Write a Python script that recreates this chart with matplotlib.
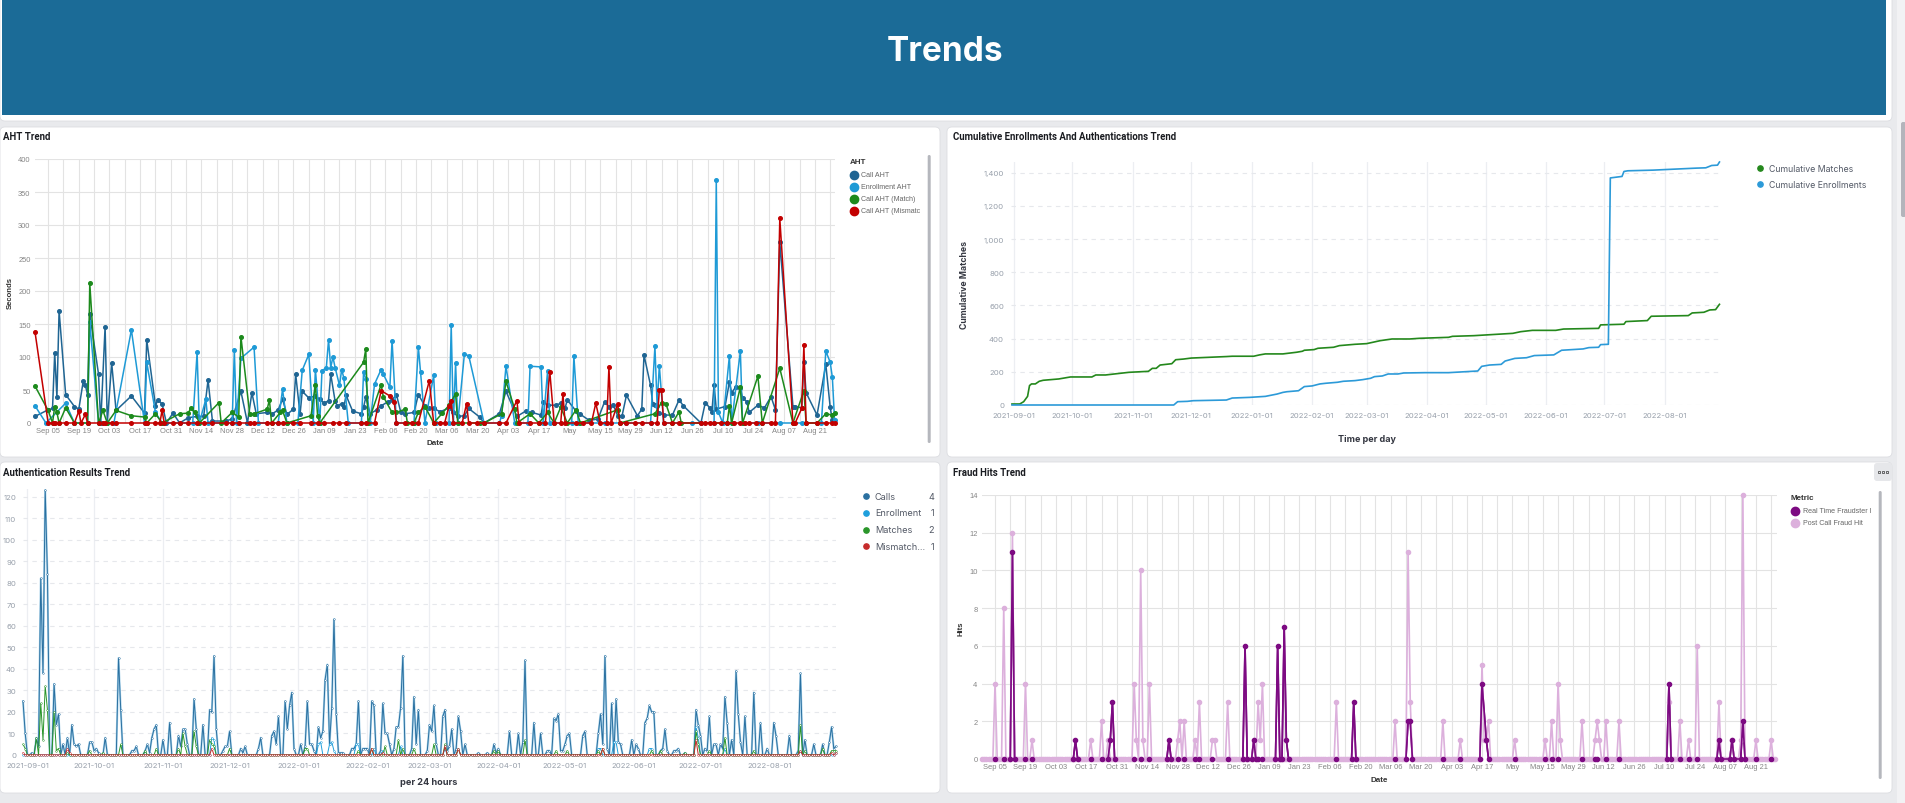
import matplotlib
matplotlib.use("Agg")
import matplotlib.pyplot as plt
from matplotlib.patches import FancyBboxPatch
import numpy as np
import pandas as pd

W, H = 1906, 804
START = pd.Timestamp("2021-08-30")   # day 0 of every series

# ---------------- AHT Trend : {day offset: seconds} ----------------
call_aht = {0: 10, 6: 20, 8: 22, 9: 106, 10: 39, 11: 170, 14: 43, 18: 25, 20: 21, 22: 63, 23: 57, 24: 43,
            25: 165, 29: 74, 30: 0, 32: 146, 33: 0, 35: 91, 37: 19, 44: 41, 50: 15, 51: 126, 55: 26, 56: 35,
            58: 29, 60: 0, 63: 15, 66: 0, 70: 8, 74: 10, 77: 10, 79: 65, 81: 3, 87: 3, 90: 6, 94: 48, 97: 0,
            99: 46, 101: 14, 106: 16, 108: 13, 111: 20, 113: 36, 115: 13, 118: 21, 119: 74, 121: 13, 122: 48,
            125: 38, 128: 41, 130: 36, 132: 30, 134: 34, 135: 74, 137: 33, 138: 26, 140: 29, 141: 24, 142: 42,
            145: 18, 149: 14, 150: 24, 151: 39, 153: 14, 156: 20, 158: 26, 161: 32, 163: 35, 165: 43, 167: 16,
            169: 14, 173: 16, 175: 43, 178: 26, 180: 22, 182: 22, 185: 17, 189: 23, 191: 16, 193: 10, 196: 11,
            198: 22, 203: 9, 205: 0, 212: 14, 215: 48, 220: 10, 224: 18, 227: 16, 231: 12, 232: 32, 234: 27,
            238: 27, 240: 30, 242: 23, 243: 35, 247: 18, 249: 13, 253: 4, 257: 6, 260: 32, 262: 25, 264: 27,
            266: 11, 268: 11, 270: 42, 275: 11, 277: 21, 278: 103, 281: 57, 282: 29, 283: 27, 285: 15, 287: 12,
            291: 12, 294: 35, 296: 26, 304: 0, 306: 31, 308: 23, 309: 17, 310: 58, 311: 21, 315: 25, 317: 62,
            318: 46, 320: 55, 322: 53, 323: 38, 325: 32, 326: 16, 330: 27, 333: 23, 336: 40, 338: 20, 340: 274,
            346: 25, 347: 25, 350: 23, 351: 93, 352: 46, 357: 12, 361: 89, 363: 24, 364: 4}
enrollment_aht = {0: 26, 5: 0, 14: 30, 18: 0, 24: 0, 25: 153, 29: 0, 36: 0, 44: 141, 50: 0, 51: 92, 55: 16,
                  58: 0, 72: 0, 74: 107, 75: 0, 78: 36, 79: 0, 90: 0, 91: 110, 92: 0, 94: 98, 100: 115, 102: 0,
                  111: 0, 113: 51, 115: 0, 120: 0, 122: 80, 125: 104, 127: 0, 128: 81, 130: 0, 131: 79, 133: 84,
                  134: 126, 135: 84, 136: 100, 137: 84, 139: 57, 140: 81, 141: 68, 143: 0, 149: 0, 150: 77,
                  151: 67, 153: 0, 155: 59, 158: 81, 159: 74, 162: 54, 163: 125, 165: 0, 173: 0, 175: 115,
                  176: 77, 178: 0, 182: 72, 183: 0, 189: 0, 190: 148, 191: 0, 192: 91, 193: 0, 196: 104,
                  198: 102, 205: 0, 212: 0, 213: 11, 215: 86, 219: 0, 225: 0, 226: 86, 231: 85, 232: 0,
                  234: 79, 235: 0, 245: 0, 246: 101, 248: 0, 260: 0, 270: 0, 281: 0, 283: 116, 284: 26,
                  285: 87, 287: 0, 300: 0, 310: 0, 311: 368, 312: 16, 314: 0, 317: 102, 318: 0, 322: 109,
                  323: 0, 330: 0, 340: 0, 350: 0, 359: 0, 361: 109, 363: 92, 364: 69, 365: 4}
call_aht_match = {0: 56, 6: 19, 8: 0, 9: 25, 10: 16, 11: 0, 14: 23, 18: 0, 24: 0, 25: 212, 29: 0, 31: 19,
                  33: 0, 37: 19, 44: 11, 50: 9, 51: 0, 55: 14, 58: 0, 66: 14, 70: 15, 71: 22, 73: 16, 75: 0,
                  84: 31, 85: 0, 90: 16, 93: 9, 94: 131, 98: 14, 100: 14, 106: 21, 107: 35, 108: 0, 112: 16,
                  113: 19, 115: 0, 126: 11, 128: 58, 129: 11, 130: 0, 150: 92, 151: 112, 152: 0, 158: 58,
                  159: 40, 163: 16, 165: 16, 169: 21, 170: 0, 173: 0, 175: 16, 178: 25, 182: 0, 186: 15,
                  189: 27, 192: 44, 193: 0, 203: 0, 205: 0, 213: 14, 215: 63, 219: 21, 220: 0, 226: 14,
                  230: 0, 234: 16, 237: 0, 240: 24, 243: 0, 247: 20, 249: 0, 266: 20, 267: 0, 283: 14,
                  286: 31, 288: 29, 291: 0, 294: 17, 295: 0, 316: 0, 317: 26, 318: 0, 322: 54, 323: 0,
                  330: 71, 332: 0, 340: 83, 346: 0, 351: 49, 352: 0, 357: 0, 361: 14, 364: 12, 365: 15}
call_aht_mismatch = {0: 138, 6: 0, 8: 0, 9: 0, 11: 0, 14: 0, 18: 0, 20: 18, 21: 0, 23: 13, 24: 0, 29: 0,
                     31: 0, 32: 0, 35: 0, 37: 0, 44: 0, 50: 0, 51: 0, 55: 0, 57: 0, 58: 19, 59: 0, 63: 0,
                     66: 0, 70: 0, 74: 0, 77: 0, 81: 0, 87: 0, 90: 0, 93: 0, 98: 0, 100: 0, 106: 0, 108: 0,
                     111: 0, 113: 0, 118: 0, 121: 0, 126: 0, 129: 0, 132: 0, 136: 0, 139: 0, 142: 0, 149: 0,
                     151: 0, 155: 0, 158: 49, 162: 41, 164: 32, 165: 0, 169: 0, 172: 0, 175: 0, 180: 64,
                     182: 0, 185: 0, 187: 0, 189: 26, 190: 33, 191: 0, 195: 0, 197: 29, 198: 0, 202: 0,
                     205: 0, 212: 0, 215: 0, 220: 34, 221: 0, 226: 0, 230: 0, 233: 0, 235: 78, 237: 0,
                     240: 0, 241: 44, 242: 0, 247: 0, 250: 0, 254: 0, 256: 30, 258: 0, 261: 0, 262: 85,
                     263: 0, 266: 29, 267: 0, 270: 0, 274: 0, 277: 0, 281: 0, 284: 0, 285: 50, 286: 50,
                     287: 0, 291: 0, 294: 0, 304: 0, 306: 0, 308: 0, 310: 0, 313: 0, 316: 0, 319: 0, 322: 0,
                     324: 0, 326: 0, 329: 0, 332: 0, 336: 0, 338: 0, 340: 310, 346: 0, 347: 0, 350: 22,
                     351: 118, 352: 0, 357: 0, 361: 0, 364: 0, 365: 0}
aht_names = ["Call AHT", "Enrollment AHT", "Call AHT (Match)", "Call AHT (Mismatc"]
aht_colors = ["#1f6593", "#1e9ad6", "#1c8a1c", "#c30000"]
week_labels = ["Sep 05", "Sep 19", "Oct 03", "Oct 17", "Oct 31", "Nov 14", "Nov 28", "Dec 12", "Dec 26",
               "Jan 09", "Jan 23", "Feb 06", "Feb 20", "Mar 06", "Mar 20", "Apr 03", "Apr 17", "May",
               "May 15", "May 29", "Jun 12", "Jun 26", "Jul 10", "Jul 24", "Aug 07", "Aug 21"]

# ---------------- Cumulative trend : {day offset: total} ----------------
cum_matches = {1: 6, 5: 6, 7: 20, 9: 52, 10: 117, 11: 127, 13: 127, 15: 143, 17: 149, 25: 157, 31: 169,
               42: 169, 44: 181, 49: 181, 61: 197, 71: 203, 73: 221, 75: 221, 77: 241, 83: 249, 85: 273,
               89: 277, 93: 283, 111: 292, 114: 294, 125: 294, 128: 302, 131: 308, 140: 308, 147: 318,
               150: 324, 151: 330, 156: 334, 158: 342, 166: 348, 169: 358, 177: 366, 183: 370, 190: 388,
               196: 398, 205: 398, 210: 402, 225: 408, 227: 414, 238: 418, 258: 432, 262: 442, 268: 450,
               280: 450, 284: 458, 302: 462, 303: 483, 315: 487, 316: 503, 327: 509, 329: 535, 348: 539,
               350: 555, 356: 559, 359: 573, 362: 575, 364: 607}
cum_enrollments = {1: 0, 84: 0, 86: 20, 91: 22, 94: 26, 111: 30, 114: 42, 123: 46, 131: 52, 137: 66, 140: 76,
                   142: 80, 148: 86, 151: 111, 155: 115, 159: 127, 162: 131, 168: 137, 171: 143, 177: 147,
                   181: 153, 185: 161, 187: 171, 191: 175, 194: 187, 199: 187, 202: 193, 213: 195, 225: 195,
                   240: 205, 242: 233, 246: 241, 252: 245, 254: 265, 259: 281, 265: 285, 269: 298, 279: 302,
                   283: 330, 294: 338, 297: 346, 302: 348, 303: 364, 307: 366, 308: 1369, 314: 1378,
                   315: 1408, 317: 1412, 330: 1416, 352: 1428, 357: 1430, 360: 1444, 363: 1446, 364: 1465}
cum_names = ["Cumulative Matches", "Cumulative Enrollments"]
cum_colors = ["#24881c", "#2c9ad8"]
month_labels = ["2021-09-01", "2021-10-01", "2021-11-01", "2021-12-01", "2022-01-01", "2022-02-01",
                "2022-03-01", "2022-04-01", "2022-05-01", "2022-06-01", "2022-07-01", "2022-08-01"]

# ---------------- Authentication results : {day offset: count} ----------------
auth_calls = {0: 25, 1: 10, 4: 1, 6: 8, 7: 4, 8: 82, 9: 38, 10: 123, 11: 84, 14: 33, 15: 14, 16: 19, 18: 5,
              20: 8, 22: 14, 23: 5, 24: 4, 25: 5, 30: 6, 31: 6, 32: 2, 33: 3, 34: 1, 37: 8, 43: 45, 44: 21,
              49: 2, 50: 2, 51: 4, 55: 2, 56: 5, 57: 1, 58: 8, 59: 12, 60: 14, 63: 7, 66: 15, 70: 9, 71: 4,
              72: 12, 73: 12, 74: 5, 77: 26, 78: 12, 81: 14, 84: 21, 85: 20, 86: 46, 87: 12, 90: 2, 91: 4,
              92: 4, 93: 11, 98: 3, 99: 1, 100: 4, 106: 3, 107: 8, 112: 9, 113: 11, 114: 5, 115: 18, 118: 25,
              119: 12, 120: 23, 121: 29, 122: 3, 125: 5, 127: 4, 128: 25, 129: 5, 130: 5, 131: 2, 133: 13,
              134: 8, 135: 11, 136: 35, 137: 42, 138: 5, 139: 22, 140: 63, 141: 19, 142: 1, 143: 1, 144: 1,
              148: 3, 149: 3, 150: 5, 151: 25, 153: 3, 154: 3, 155: 3, 157: 25, 158: 23, 161: 2, 162: 24,
              163: 10, 164: 10, 165: 5, 167: 3, 168: 13, 169: 13, 170: 22, 171: 46, 175: 3, 176: 27, 177: 5,
              178: 21, 182: 2, 183: 14, 184: 11, 185: 23, 186: 5, 189: 18, 190: 21, 191: 2, 192: 4, 193: 12,
              195: 3, 196: 18, 197: 11, 199: 5, 205: 1, 209: 1, 212: 5, 213: 1, 214: 3, 219: 11, 223: 10,
              225: 6, 226: 44, 230: 15, 233: 10, 236: 2, 237: 2, 239: 17, 240: 16, 241: 19, 242: 2, 243: 2,
              244: 5, 245: 9, 246: 10, 252: 9, 253: 11, 259: 10, 260: 19, 261: 5, 262: 46, 263: 3, 265: 24,
              267: 26, 268: 6, 269: 5, 274: 7, 276: 5, 277: 3, 280: 15, 281: 17, 282: 23, 283: 20, 284: 20,
              287: 2, 288: 3, 289: 12, 290: 2, 293: 2, 294: 2, 295: 3, 298: 1, 303: 21, 304: 14, 305: 9,
              307: 3, 308: 2, 309: 18, 311: 5, 312: 5, 314: 5, 315: 3, 316: 27, 317: 15, 319: 7, 321: 39,
              322: 19, 323: 6, 325: 18, 329: 29, 332: 15, 335: 3, 338: 15, 339: 9, 345: 9, 349: 2, 350: 38,
              352: 7, 356: 5, 360: 5, 363: 6, 364: 13, 365: 3, 366: 4}
auth_enrollment = {85: 8, 86: 7, 133: 5, 134: 6, 138: 5, 139: 6, 140: 2, 150: 5, 151: 5, 158: 3, 162: 2,
                   170: 4, 190: 3, 196: 3, 259: 3, 260: 3, 266: 6, 267: 6, 282: 3, 283: 3, 303: 13, 304: 8,
                   316: 3, 350: 2, 366: 1}
auth_matches = {0: 5, 1: 3, 6: 8, 8: 24, 9: 7, 10: 32, 11: 21, 14: 20, 15: 2, 16: 3, 20: 1, 30: 2, 36: 1,
                44: 5, 55: 2, 60: 3, 70: 3, 72: 10, 73: 4, 77: 11, 78: 4, 84: 7, 85: 5, 86: 4, 93: 3, 127: 3,
                128: 3, 151: 2, 157: 3, 163: 4, 169: 7, 171: 3, 176: 3, 185: 5, 190: 5, 196: 3, 212: 2,
                214: 2, 226: 7, 240: 2, 245: 2, 259: 2, 261: 3, 283: 2, 287: 2, 298: 1, 303: 11, 304: 5,
                309: 2, 316: 8, 329: 2, 350: 14, 352: 2, 360: 3, 364: 2, 365: 2, 366: 2}
auth_mismatches = {0: 1, 20: 3, 21: 1, 85: 3, 157: 3, 162: 1, 190: 4, 196: 3, 261: 3, 303: 7, 350: 2,
                   364: 1, 366: 1}
auth_names = ["Calls", "Enrollment", "Matches", "Mismatch..."]
auth_last = ["4", "1", "2", "1"]
auth_colors = ["#2a70a0", "#1e9fdc", "#2a962a", "#c62b2b"]

# ---------------- Fraud hits : {day offset: hits} ----------------
post_call_hits = {6: 4, 10: 8, 14: 12, 20: 4, 23: 1, 50: 1, 55: 2, 58: 1, 70: 4, 71: 1, 73: 10, 74: 1,
                  77: 4, 90: 1, 91: 2, 93: 2, 98: 1, 100: 3, 106: 1, 107: 1, 113: 3, 125: 1, 127: 3, 128: 1,
                  129: 4, 163: 3, 190: 2, 196: 11, 197: 3, 212: 2, 220: 1, 230: 5, 231: 1, 232: 1, 233: 2,
                  245: 1, 259: 1, 262: 2, 265: 4, 266: 1, 276: 2, 282: 1, 283: 2, 284: 1, 287: 2, 293: 2,
                  316: 3, 321: 2, 325: 1, 329: 6, 339: 3, 345: 1, 349: 1, 350: 14, 356: 1, 363: 1}
real_time_hits = {6: 0, 10: 0, 13: 0, 14: 11, 15: 0, 20: 0, 23: 0, 42: 0, 43: 1, 44: 0, 50: 0, 55: 0,
                  58: 0, 59: 1, 60: 3, 61: 0, 70: 0, 73: 0, 77: 0, 85: 0, 86: 1, 87: 0, 90: 0, 93: 0,
                  98: 0, 100: 0, 106: 0, 113: 0, 120: 0, 121: 6, 122: 0, 124: 0, 125: 1, 126: 0, 127: 0,
                  129: 0, 135: 0, 136: 6, 137: 0, 138: 0, 139: 7, 140: 1, 141: 0, 163: 0, 170: 0, 171: 3,
                  172: 0, 190: 0, 195: 0, 196: 2, 197: 2, 198: 0, 212: 0, 220: 0, 229: 0, 230: 4, 232: 1,
                  233: 0, 245: 0, 259: 0, 262: 0, 265: 0, 276: 0, 282: 0, 283: 0, 287: 0, 293: 0, 315: 0,
                  316: 4, 317: 0, 321: 0, 325: 0, 329: 0, 338: 0, 339: 1, 340: 0, 344: 0, 345: 1, 346: 0,
                  349: 0, 350: 2, 351: 0, 356: 0, 363: 0}
fraud_names = ["Real Time Fraudster I", "Post Call Fraud Hit"]
fraud_colors = ["#7d0a82", "#dcb0dc"]

# ======================================================================
INTER = ["Inter", "DejaVu Sans"]
ARIAL = ["Liberation Sans", "DejaVu Sans"]
TITLEF = ["Roboto", "DejaVu Sans"]


def pts(d):
    k = sorted(d)
    return np.array(k, float), np.array([d[i] for i in k], float)


def daily(d, n):
    days = np.arange(n)
    return days, np.array([d.get(i, 0) for i in days], float)


fig = plt.figure(figsize=(W / 100, H / 100), dpi=100, facecolor="#e9eaed")
bg = fig.add_axes([0, 0, 1, 1])
bg.set_xlim(0, W)
bg.set_ylim(H, 0)
bg.axis("off")


def rbox(x0, y0, x1, y1, fc="white", r=5, ec="none", lw=0.0):
    bg.add_patch(FancyBboxPatch((x0, y0), x1 - x0, y1 - y0,
                                boxstyle=f"round,pad=0,rounding_size={r}", fc=fc, ec=ec, lw=lw))


def add_ax(x0, y0, x1, y1):
    return fig.add_axes([x0 / W, 1 - y1 / H, (x1 - x0) / W, (y1 - y0) / H])


# page scrollbar
bg.add_patch(plt.Rectangle((1897, 0), 9, H, fc="#f2f2f4", ec="none"))
rbox(1901, 123, 1906, 218, fc="#b3b4bb", r=2)

# header
rbox(0, -10, 1892, 122, fc="white", ec="#dcdde1", lw=0.6)
bg.add_patch(plt.Rectangle((2, 0), 1884, 116, fc="#1b6b97", ec="none"))
bg.text(945, 52, "Trends", color="white", fontsize=24, fontweight="bold", family=INTER,
        ha="center", va="center")

# panels
for (x0, y0, x1, y1) in [(0, 128, 940, 458), (947, 128, 1892, 458), (0, 463, 940, 794), (947, 463, 1892, 794)]:
    rbox(x0, y0, x1, y1, fc="white", ec="#dcdde1", lw=0.6)

title_kw = dict(fontsize=6.9, fontweight="bold", color="#1a1c21", family=TITLEF, va="center", ha="left")
bg.text(3, 137, "AHT Trend", **title_kw)
bg.text(953, 137, "Cumulative Enrollments And Authentications Trend", **title_kw)
bg.text(3, 473, "Authentication Results Trend", **title_kw)
bg.text(953, 473, "Fraud Hits Trend", **title_kw)

major_week = [6 + 14 * i for i in range(len(week_labels))]
minor_week = [13 + 14 * i for i in range(len(week_labels))]
month_pos = [(pd.Timestamp(m) - START).days for m in month_labels]


def style_vega(ax, xmax, ymax, yticks):
    ax.set_xlim(0, xmax)
    ax.set_ylim(0, ymax)
    ax.set_xticks(major_week)
    ax.set_xticklabels(week_labels)
    ax.set_xticks(minor_week, minor=True)
    ax.set_yticks(yticks)
    ax.grid(True, which="both", color="#e3e3e3", lw=0.8)
    ax.set_axisbelow(True)
    for s in ax.spines.values():
        s.set_visible(False)
    ax.tick_params(which="both", length=0, labelsize=5.4, labelcolor="#858585", pad=3.2)
    for t in ax.get_xticklabels() + ax.get_yticklabels():
        t.set_family(ARIAL)


def style_elastic(ax, xmin, xmax, ymax, yticks, ylabels):
    ax.set_xlim(xmin, xmax)
    ax.set_ylim(0, ymax)
    ax.set_xticks(month_pos)
    ax.set_xticklabels(month_labels)
    ax.set_yticks(yticks)
    ax.set_yticklabels(ylabels)
    ax.xaxis.grid(True, color="#eceef2", lw=0.9)
    ax.yaxis.grid(True, color="#e6e8ec", lw=0.8, ls=(0, (4, 4)))
    ax.set_axisbelow(True)
    for s in ax.spines.values():
        s.set_visible(False)
    ax.tick_params(length=0, labelsize=5.6, labelcolor="#98a0ab", pad=5)
    for t in ax.get_xticklabels() + ax.get_yticklabels():
        t.set_family(INTER)


# ---------------- AHT Trend ----------------
ax1 = add_ax(35, 160, 835, 424)
for series, col in zip([call_aht, enrollment_aht, call_aht_match, call_aht_mismatch], aht_colors):
    x, y = pts(series)
    ax1.plot(x, y, color=col, lw=1.1, marker="o", ms=2.6, mec=col, mfc=col, clip_on=False, zorder=3)
style_vega(ax1, 365.2, 400, range(0, 401, 50))
bg.text(10, 293, "Seconds", rotation=90, fontsize=5.6, fontweight="bold", family=ARIAL, color="#333",
        ha="center", va="center")
bg.text(435, 444, "Date", fontsize=5.8, fontweight="bold", family=ARIAL, color="#333", ha="center", va="center")
bg.text(850, 163, "AHT", fontsize=5.8, fontweight="bold", family=ARIAL, color="#333", ha="left", va="center")
for i, (name, col) in enumerate(zip(aht_names, aht_colors)):
    yy = 175.7 + 12 * i
    bg.plot([854], [yy], marker="o", ms=6, color=col, mec=col)
    bg.text(861, yy, name, fontsize=5.1, family=ARIAL, color="#666", ha="left", va="center")
rbox(927.7, 156, 930.7, 444, fc="#b5b7bd", r=1.5)

# ---------------- Cumulative ----------------
ax2 = add_ax(1011, 163, 1722, 406)
for series, col in zip([cum_matches, cum_enrollments], cum_colors):
    x, y = pts(series)
    ax2.plot(x, y, color=col, lw=1.2, clip_on=False, zorder=3)
style_elastic(ax2, 0.5, 365.3, 1465, range(0, 1401, 200), [f"{v:,}" for v in range(0, 1401, 200)])
bg.text(965, 285, "Cumulative Matches", rotation=90, fontsize=6.3, fontweight="bold", family=INTER,
        color="#343741", ha="center", va="center")
bg.text(1367, 440, "Time per day", fontsize=6.5, fontweight="bold", family=INTER, color="#343741",
        ha="center", va="center")
for i, (name, col) in enumerate(zip(cum_names, cum_colors)):
    yy = 169 + 16 * i
    bg.plot([1760], [yy], marker="o", ms=3.8, color=col, mec=col)
    bg.text(1769, yy, name, fontsize=6.3, family=INTER, color="#535966", ha="left", va="center")

# ---------------- Authentication Results ----------------
ax3 = add_ax(23, 490, 836, 756)
n_auth = 367
for k, (series, col) in enumerate(zip([auth_calls, auth_enrollment, auth_matches, auth_mismatches], auth_colors)):
    x, y = daily(series, n_auth)
    if k == 0:
        ax3.plot(x, y, color="#a8d2ea", lw=1.5, zorder=2, clip_on=False)
    ax3.plot(x, y, color=col, lw=0.7, marker="o", ms=1.2, mec=col, mfc="white", mew=0.35,
             zorder=3 + k, clip_on=False)
style_elastic(ax3, 0, 366, 123.5, range(0, 121, 10), [str(v) for v in range(0, 121, 10)])
bg.text(429, 783, "per 24 hours", fontsize=6.6, fontweight="bold", family=INTER, color="#343741",
        ha="center", va="center")
for i, (name, val, col) in enumerate(zip(auth_names, auth_last, auth_colors)):
    yy = 497.3 + 16.7 * i
    bg.plot([866], [yy], marker="o", ms=3.8, color=col, mec=col)
    bg.text(875, yy, name, fontsize=6.6, family=INTER, color="#535966", ha="left", va="center")
    bg.text(934, yy, val, fontsize=6.6, family=INTER, color="#535966", ha="right", va="center")

# ---------------- Fraud Hits ----------------
ax4 = add_ax(982, 496, 1777, 760)
xd, yd = pts(real_time_hits)
xl, yl = daily(post_call_hits, 366)
# baseline layer: light series over the dark one
ax4.plot(xd, yd, color=fraud_colors[0], lw=1.2, zorder=3, clip_on=False)
ax4.plot(xl, yl, color=fraud_colors[1], lw=1.2, marker="o", ms=3.0, mec=fraud_colors[1],
         mfc=fraud_colors[1], zorder=4, clip_on=False)
# dark markers and dark peaks on top
ax4.plot(xd, yd, ls="none", marker="o", ms=3.0, color=fraud_colors[0], zorder=5, clip_on=False)
near_peak = np.array([(yd[max(i - 1, 0):i + 2] > 0).any() for i in range(len(yd))])
yd_peaks = np.where(near_peak, yd, np.nan)
ax4.plot(xd, yd_peaks, color=fraud_colors[0], lw=1.2, zorder=5, clip_on=False)
style_vega(ax4, 365.7, 14, range(0, 15, 2))
bg.text(961, 629, "Hits", rotation=90, fontsize=5.6, fontweight="bold", family=ARIAL, color="#333",
        ha="center", va="center")
bg.text(1379, 781, "Date", fontsize=5.8, fontweight="bold", family=ARIAL, color="#333", ha="center", va="center")
bg.text(1791, 499, "Metric", fontsize=5.8, fontweight="bold", family=ARIAL, color="#333", ha="left", va="center")
for i, (name, col) in enumerate(zip(fraud_names, fraud_colors)):
    yy = 511.7 + 12 * i
    bg.plot([1795], [yy], marker="o", ms=6, color=col, mec=col)
    bg.text(1802.7, yy, name, fontsize=5.1, family=ARIAL, color="#666", ha="left", va="center")
rbox(1878.7, 492, 1881.7, 780, fc="#b5b7bd", r=1.5)
rbox(1874, 464, 1892, 482, fc="#e6e7ea", r=3)
for dx in (1879, 1883, 1887):
    bg.add_patch(plt.Rectangle((dx - 1.2, 472), 2.4, 2.4, fc="none", ec="#333", lw=0.5))

fig.savefig("out.png", dpi=100, facecolor=fig.get_facecolor())
